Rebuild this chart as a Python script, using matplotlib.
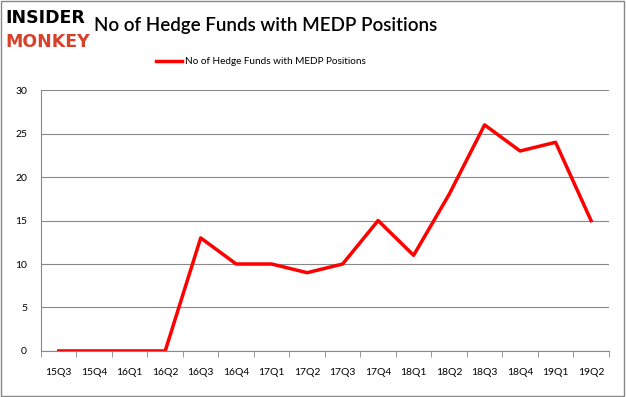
import numpy as np
import matplotlib.pyplot as plt

quarters = ["15Q3", "15Q4", "16Q1", "16Q2", "16Q3", "16Q4", "17Q1", "17Q2",
            "17Q3", "17Q4", "18Q1", "18Q2", "18Q3", "18Q4", "19Q1", "19Q2"]
funds = [0, 0, 0, 0, 13, 10, 10, 9, 10, 15, 11, 18, 26, 23, 24, 15]
series_name = "No of Hedge Funds with MEDP Positions"

plt.rcParams['font.family'] = ['Lato', 'DejaVu Sans']

fig = plt.figure(figsize=(6.26, 3.97), dpi=100)
ax = fig.add_axes([0.0655, 0.116, 0.907, 0.657])

x = np.arange(len(quarters))
ax.plot(x, funds, color='#ff0000', linewidth=2.5, label=series_name)

ax.set_xlim(-0.5, len(quarters) - 0.5)
ax.set_ylim(0, 30)
ax.set_yticks(range(0, 31, 5))
ax.set_xticks(x)
ax.set_xticklabels(quarters)
ax.set_xticks(np.arange(-0.5, len(quarters)), minor=True)
ax.tick_params(axis='x', which='major', length=0, pad=12, labelsize=7.5)
ax.tick_params(axis='x', which='minor', length=4, color='#888888')
ax.tick_params(axis='y', length=0, pad=10, labelsize=7.5)
ax.grid(axis='y', color='#888888', linewidth=0.8)
ax.set_axisbelow(True)
for side in ['top', 'right']:
    ax.spines[side].set_visible(False)
for side in ['left', 'bottom']:
    ax.spines[side].set_color('#888888')

ax.legend(loc='center', bbox_to_anchor=(0.387, 1.108), frameon=False,
          fontsize=7.2, handlelength=2.6, handletextpad=0.3)

fig.text(0.15, 0.937, series_name, fontsize=13.5, fontweight='semibold',
         va='center', ha='left')
fig.text(0.008, 0.955, "INSIDER", fontsize=12.5, fontweight='heavy', color='black',
         va='center', ha='left', family='DejaVu Sans')
fig.text(0.008, 0.895, "MONKEY", fontsize=12.5, fontweight='heavy', color='#d9402a',
         va='center', ha='left', family='DejaVu Sans')

border = plt.Rectangle((0.002, 0.003), 0.995, 0.994, transform=fig.transFigure,
                       fill=False, edgecolor='#888888', linewidth=1)
fig.patches.append(border)

fig.savefig('out.png', dpi=100)
